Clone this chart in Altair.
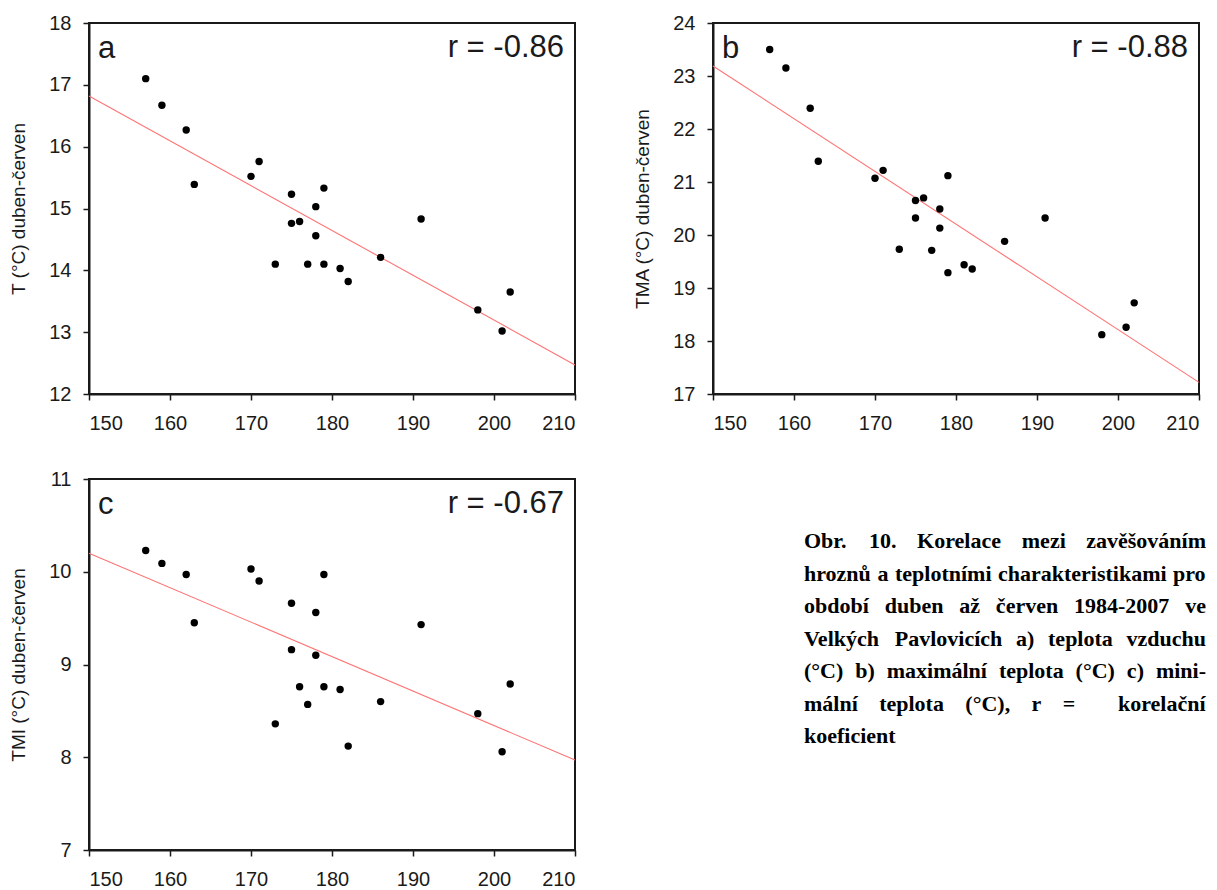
import altair as alt
import pandas as pd

# Day of year of bunch closure (one value per season)
doy = [157, 159, 162, 163, 170, 171, 173, 175, 175, 176, 177,
       178, 178, 179, 179, 181, 182, 186, 191, 198, 201, 202]

# April-June temperature characteristics, same order as doy
t_mean = [17.10, 16.67, 16.27, 15.39, 15.52, 15.76, 14.10, 15.23, 14.76, 14.79, 14.10,
          15.03, 14.56, 15.33, 14.10, 14.03, 13.82, 14.21, 14.83, 13.36, 13.02, 13.65]
t_max = [23.50, 23.15, 22.39, 21.39, 21.07, 21.22, 19.73, 20.65, 20.32, 20.70, 19.71,
         20.49, 20.13, 21.12, 19.29, 19.44, 19.36, 19.88, 20.32, 18.12, 18.26, 18.72]
t_min = [10.23, 10.09, 9.97, 9.45, 10.03, 9.90, 8.36, 9.66, 9.16, 8.76, 8.57,
         9.56, 9.10, 9.97, 8.76, 8.73, 8.12, 8.60, 9.43, 8.47, 8.06, 8.79]

# Linear fits drawn across the full x range
fit_x = [150, 210]
fit_mean = [16.82, 12.47]
fit_max = [23.19, 17.22]
fit_min = [10.20, 7.97]

x_ticks = [150, 160, 170, 180, 190, 200, 210]

caption_lines = [
    "Obr. 10. Korelace mezi zavěšováním",
    "hroznů a teplotními charakteristikami pro",
    "období duben až červen 1984-2007 ve",
    "Velkých Pavlovicích a) teplota vzduchu",
    "(°C) b) maximální teplota (°C) c) mini-",
    "mální teplota (°C), r =  korelační",
    "koeficient",
]

PANEL_W = 486
PANEL_H = 371
INK = "#1a1a1a"
FIT_COLOR = "#ff7373"


def panel(values, fit, letter, r_label, title, ymin, ymax):
    pts = pd.DataFrame({"x": doy, "y": values})
    fit_df = pd.DataFrame({"x": fit_x, "y": fit})
    xs = alt.Scale(domain=[150, 210], nice=False, zero=False)
    ys = alt.Scale(domain=[ymin, ymax], nice=False, zero=False)
    x_enc = alt.X("x:Q", scale=xs, axis=alt.Axis(values=x_ticks, title=None, format="d"))
    y_enc = alt.Y("y:Q", scale=ys,
                  axis=alt.Axis(values=list(range(ymin, ymax + 1)), title=title, format="d"))

    fit_line = alt.Chart(fit_df).mark_line(color=FIT_COLOR, strokeWidth=1.1).encode(x=x_enc, y=y_enc)
    dots = alt.Chart(pts).mark_circle(size=55, color="black", opacity=1).encode(
        x=alt.X("x:Q", scale=xs), y=alt.Y("y:Q", scale=ys))
    tag = alt.Chart(pd.DataFrame({"t": [letter]})).mark_text(
        align="left", baseline="alphabetic", font="Liberation Sans", fontSize=31, color=INK
    ).encode(x=alt.value(9), y=alt.value(35), text="t:N")
    r_txt = alt.Chart(pd.DataFrame({"t": [r_label]})).mark_text(
        align="right", baseline="alphabetic", font="Liberation Sans", fontSize=31, color=INK
    ).encode(x=alt.value(PANEL_W - 11), y=alt.value(34), text="t:N")
    return alt.layer(fit_line, dots, tag, r_txt).properties(width=PANEL_W, height=PANEL_H)


# Times-Bold advance widths (per 1000 em) for justifying the caption
TB = {" ": 250, "a": 500, "b": 556, "c": 444, "d": 556, "e": 444, "f": 333, "g": 500,
      "h": 556, "i": 278, "j": 333, "k": 556, "l": 278, "m": 833, "n": 556, "o": 500,
      "p": 556, "q": 556, "r": 444, "s": 389, "t": 333, "u": 556, "v": 500, "w": 722,
      "x": 500, "y": 500, "z": 444, "O": 778, "K": 778, "V": 722, "C": 722, "P": 611,
      ".": 250, ",": 250, "-": 333, "(": 333, ")": 333, "°": 400, "=": 570,
      "á": 500, "í": 278, "ě": 444, "š": 389, "ů": 556, "ž": 444, "č": 444, "ý": 500}
for d in "0123456789":
    TB[d] = 500

CAP_FS = 22
CAP_LEFT = 91
CAP_WIDTH = 402
CAP_Y0 = 69
CAP_STEP = 32.5


def text_w(s):
    return sum(TB.get(ch, 500) for ch in s) * CAP_FS / 1000.0


rows = []
for li, line in enumerate(caption_lines):
    tokens = line.split(" ")
    last = li == len(caption_lines) - 1
    n_gaps = len(tokens) - 1
    words_w = sum(text_w(t) for t in tokens)
    gap = text_w(" ") if (last or n_gaps == 0) else (CAP_WIDTH - words_w) / n_gaps
    x = CAP_LEFT
    for i, tok in enumerate(tokens):
        if tok:
            rows.append({"px": x, "py": CAP_Y0 + li * CAP_STEP, "word": tok})
            x += text_w(tok)
        if i < n_gaps:
            x += gap
cap_df = pd.DataFrame(rows)

caption = alt.Chart(cap_df).mark_text(
    align="left", baseline="alphabetic", font="Liberation Serif", fontWeight="bold",
    fontSize=CAP_FS, color="black"
).encode(
    x=alt.X("px:Q", scale=None, axis=None),
    y=alt.Y("py:Q", scale=None, axis=None),
    text="word:N",
).properties(width=PANEL_W, height=PANEL_H, view=alt.ViewBackground(stroke="transparent"))

pa = panel(t_mean, fit_mean, "a", "r = -0.86", "T (°C) duben-červen", 12, 18)
pb = panel(t_max, fit_max, "b", "r = -0.88", "TMA (°C) duben-červen", 17, 24)
pc = panel(t_min, fit_min, "c", "r = -0.67", "TMI (°C) duben-červen", 7, 11)

chart = alt.concat(
    pa, pb, pc, caption, columns=2, spacing={"row": 85, "column": 138}, bounds="flush"
).properties(
    padding={"left": 8, "top": 12, "right": 0, "bottom": 0},
    background="white",
).configure_view(
    stroke=INK, strokeWidth=2
).configure_axis(
    domainColor=INK, domainWidth=2, tickColor=INK, tickWidth=1.5, tickSize=6,
    labelFont="Liberation Sans", labelFontSize=20, labelColor=INK,
    titleFont="Liberation Sans", titleFontSize=19, titleFontWeight="normal", titleColor=INK,
    grid=False,
).configure_axisX(
    labelPadding=13
).configure_axisY(
    labelPadding=12, titlePadding=20
)

chart.save("out.html", embed_options={"renderer": "svg", "actions": False})
